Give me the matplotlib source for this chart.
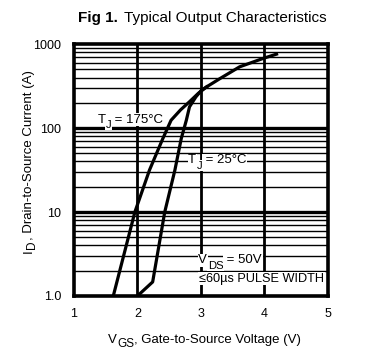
import numpy as np
import matplotlib.pyplot as plt
from matplotlib.text import Annotation
from matplotlib.ticker import FixedLocator, NullFormatter

# data
vgs_175 = [1.62, 1.96, 2.19, 2.40, 2.53, 2.68, 2.82, 2.96, 3.09, 3.30, 3.61, 3.98, 4.19]
id_175 = [1.0, 10, 31.6, 75, 124, 165, 206, 260, 310, 389, 537, 676, 760]
vgs_25 = [2.0, 2.24, 2.43, 2.59, 2.69, 2.77, 2.82, 2.92, 3.01, 3.09]
id_25 = [1.0, 1.47, 10, 31.6, 75, 124, 179, 235, 283, 310]

x_ticks = [1, 2, 3, 4, 5]
y_ticks = [1.0, 10, 100, 1000]
y_ticklabels = ["1.0", "10", "100", "1000"]

plt.rcParams['font.family'] = ['Liberation Sans', 'DejaVu Sans']

fig = plt.figure(figsize=(3.77, 3.53), dpi=100)
ax = fig.add_axes([0.196, 0.1615, 0.674, 0.7135])

ax.set_yscale('log')
ax.set_xlim(1, 5)
ax.set_ylim(1.0, 1000)

WHITE = dict(facecolor='white', edgecolor='none', pad=0.5)


def sub_text(x, y, base, sub, rest, size=9.5, drop=3.0):
    # in-plot label: "base", lowered "sub", then "rest", on white
    t1 = ax.text(x, y, base, fontsize=size, ha='left', va='bottom', bbox=WHITE, zorder=4)
    t2 = ax.annotate(sub, xy=(1, 0), xycoords=t1, xytext=(0.3, -drop), textcoords='offset points',
                     fontsize=size * 0.85, ha='left', va='bottom', bbox=WHITE, zorder=4)
    ax.annotate(rest, xy=(1, 0), xycoords=t2, xytext=(0, drop), textcoords='offset points',
                fontsize=size, ha='left', va='bottom', bbox=WHITE, zorder=4)


# grid: minor decades thin, majors thick
minors = [m * 10**d for d in range(0, 3) for m in range(2, 10)]
for v in minors:
    ax.axhline(v, color='black', lw=1.0, zorder=1)
for v in [10, 100]:
    ax.axhline(v, color='black', lw=2.4, zorder=1)
for v in [2, 3, 4]:
    ax.axvline(v, color='black', lw=2.0, zorder=1)

ax.plot(vgs_175, id_175, color='black', lw=2.3, zorder=3, solid_joinstyle='round')
ax.plot(vgs_25, id_25, color='black', lw=2.3, zorder=3, solid_joinstyle='round')

sub_text(1.37, 107, "T", "J", " = 175°C")
sub_text(2.80, 35, "T", "J", " = 25°C")
sub_text(2.96, 2.25, "V", "DS", " = 50V")
ax.text(2.97, 1.6, "≤60µs PULSE WIDTH", fontsize=9.2, ha='left', va='center', bbox=WHITE, zorder=4)

for s in ax.spines.values():
    s.set_linewidth(2.6)
    s.set_zorder(5)

ax.xaxis.set_major_locator(FixedLocator(x_ticks))
ax.yaxis.set_major_locator(FixedLocator(y_ticks))
ax.yaxis.set_minor_formatter(NullFormatter())
ax.set_yticklabels(y_ticklabels)
ax.tick_params(which='both', length=0, labelsize=9, pad=9)

# x axis title, subscript lowered
x1 = fig.text(0.287, 0.02, "V", fontsize=9.5, ha='left', va='bottom')
x2 = fig.add_artist(Annotation("GS", xy=(1, 0), xycoords=x1, xytext=(0.3, -2.6),
                               textcoords='offset points', fontsize=8.5, ha='left', va='bottom'))
fig.add_artist(Annotation(", Gate-to-Source Voltage (V)", xy=(1, 0), xycoords=x2, xytext=(0, 2.6),
                          textcoords='offset points', fontsize=9.5, ha='left', va='bottom'))

# y axis title, rotated: subscript shifted to the right
y1 = fig.text(0.092, 0.284, "I", fontsize=9.5, rotation=90, ha='right', va='bottom')
y2 = fig.add_artist(Annotation("D", xy=(1, 1), xycoords=y1, xytext=(2.6, 0),
                               textcoords='offset points', fontsize=8.5, rotation=90,
                               ha='right', va='bottom'))
fig.add_artist(Annotation(", Drain-to-Source Current (A)", xy=(1, 1), xycoords=y2, xytext=(-2.6, 0),
                          textcoords='offset points', fontsize=9.5, rotation=90,
                          ha='right', va='bottom'))

fig.text(0.312, 0.95, "Fig 1.", fontsize=11, fontweight='bold', ha='right', va='center')
fig.text(0.328, 0.95, "Typical Output Characteristics", fontsize=11, ha='left', va='center')

fig.savefig("out.png", dpi=100)
